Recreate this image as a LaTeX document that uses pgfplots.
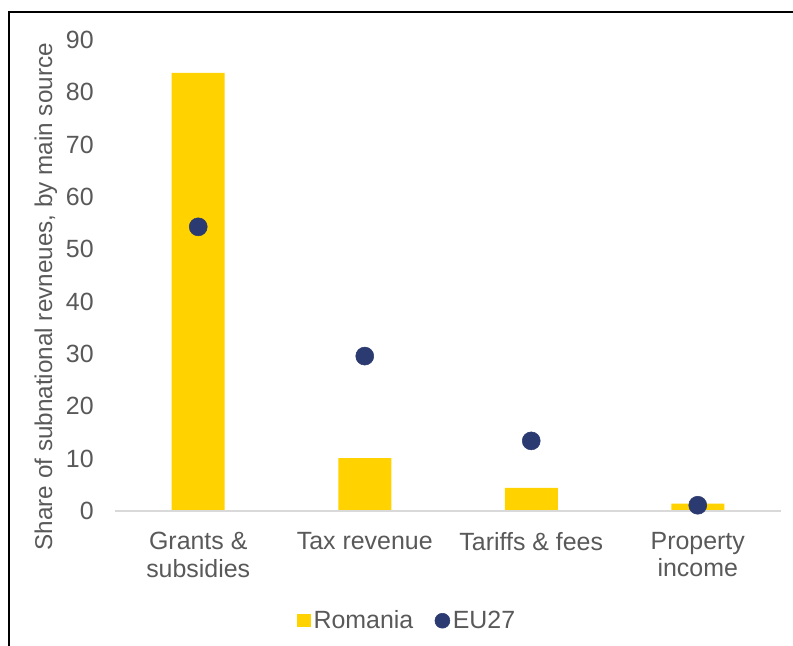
\documentclass[border=0pt]{standalone}
\usepackage{fontspec}
\setmainfont{Liberation Sans}
\usepackage{pgfplots}
\pgfplotsset{compat=1.18}
\definecolor{rogold}{HTML}{FFD200}
\definecolor{eunavy}{HTML}{2B3A70}
\definecolor{txtgray}{HTML}{595959}
\definecolor{axgray}{HTML}{D9D9D9}
\begin{document}
\begin{tikzpicture}
\path[use as bounding box] (-86.25pt,-101.25pt) rectangle (508.5pt,383.25pt);
\draw[black, line width=0.8pt] (-79.5pt,-101.25pt) -- (-79.5pt,374.25pt) -- (508.5pt,374.25pt);
\begin{axis}[
  at={(0,0)}, anchor=south west,
  scale only axis, width=499.5pt, height=353.25pt,
  xmin=-0.5, xmax=3.5, ymin=0, ymax=90,
  ytick={0,10,...,90},
  xtick={0,1,2,3},
  xticklabels={{Grants \&\\subsidies},{Tax revenue},{Tariffs \& fees},{Property\\income}},
  axis line style={draw=none},
  major tick length=0pt,
  tick style={draw=none},
  /pgf/number format/assume math mode=true,
  tick label style={font=\fontsize{18.7}{20.5}\selectfont, text=txtgray},
  yticklabel style={xshift=-12.5pt},
  xticklabel style={align=center, yshift=-12.5pt},
  ylabel={Share of subnational revneues, by main source},
  ylabel style={at={(axis description cs:-0.104,0.455)}, anchor=center, font=\fontsize{18.2}{20}\selectfont, text=txtgray},
  legend style={draw=none, fill=none, at={(axis description cs:0.439,-0.233)}, anchor=center,
    font=\fontsize{18.7}{20}\selectfont, text=txtgray, legend columns=2,
    /tikz/every even column/.append style={column sep=14pt}},
  legend cell align=left,
  clip=false,
]
\addplot[ybar, bar width=39.75pt, fill=rogold, draw=none,
  legend image code/.code={\fill[rogold] (-3pt,-4.75pt) rectangle (7.5pt,4.75pt);}]
  coordinates {(0,83.7) (1,10.1) (2,4.4) (3,1.4)};
\addlegendentry{Romania}
\addplot[only marks, mark=*, mark size=6.75pt, color=eunavy,
  legend image code/.code={\fill[eunavy] (5.6pt,0pt) circle (5.6pt);}]
  coordinates {(0,54.3) (1,29.6) (2,13.4) (3,1.1)};
\addlegendentry{EU27}
\draw[axgray, line width=1.8pt] (axis cs:-0.5,0) -- (axis cs:3.5,0);
\end{axis}
\end{tikzpicture}
\end{document}
